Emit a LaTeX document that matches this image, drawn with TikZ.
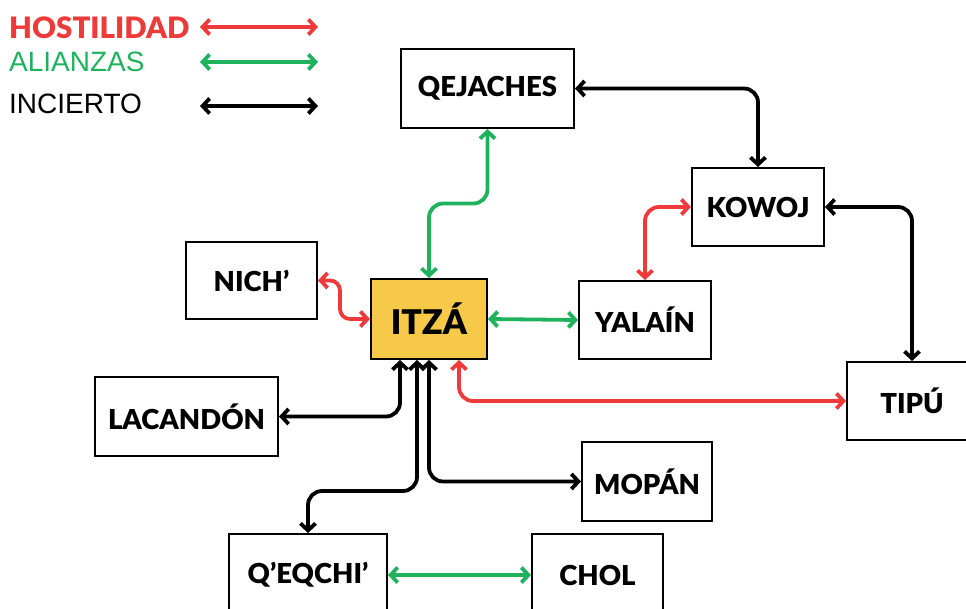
\documentclass[tikz,border=0pt]{standalone}
\usepackage{fontspec}
\setmainfont{Liberation Sans}
\newfontfamily\heavyfont{Lato Black}
\usepackage{tikz}
\usetikzlibrary{arrows.meta, calc}
\definecolor{hostil}{RGB}{238,58,58}
\definecolor{alianza}{RGB}{30,178,92}
\definecolor{itzagold}{RGB}{246,201,72}

\begin{document}
\begin{tikzpicture}[x=1pt, y=-1pt,
  >={Straight Barb[length=7pt,width=15pt]},
  tribe/.style={draw, line width=2pt, inner sep=0pt, minimum height=78pt,
    font=\heavyfont\fontsize{27.5}{31}\selectfont},
  rel/.style={<->, line width=3.8pt, rounded corners=14pt},
  legend/.style={anchor=west, inner sep=0pt, font=\fontsize{28}{32}\selectfont}]
  \useasboundingbox (0,0) rectangle (966,609);

  % Legend
  \node[legend, hostil, font=\heavyfont\fontsize{29.5}{33}\selectfont] (lhostil) at (9,28) {HOSTILIDAD};
  \node[legend, alianza] (lalianza) at (9,62) {ALIANZAS};
  \node[legend] (lincierto) at (9,104) {INCIERTO};
  \coordinate (h1) at (200,27);  \coordinate (h2) at (318,27);
  \coordinate (a1) at (200,62);  \coordinate (a2) at (318,62);
  \coordinate (i1) at (200,106); \coordinate (i2) at (318,106);
  \draw[rel, hostil] (h1) -- (h2);
  \draw[rel, alianza] (a1) -- (a2);
  \draw[rel] (i1) -- (i2);

  % Groups
  \node[tribe, fill=itzagold, minimum width=116pt, minimum height=80pt,
    font=\heavyfont\fontsize{34}{38}\selectfont] (itza) at (429,319) {ITZÁ};
  \node[tribe, minimum width=173pt, minimum height=79pt] (qejaches) at (487.5,88.5) {QEJACHES};
  \node[tribe, minimum width=132pt] (kowoj) at (758,207) {KOWOJ};
  \node[tribe, minimum width=132pt] (yalain) at (645,320) {YALAÍN};
  \node[tribe, minimum width=130pt] (tipu) at (912,401) {TIPÚ};
  \node[tribe, minimum width=131pt, minimum height=77pt] (nich) at (251.5,280.5) {NICH’};
  \node[tribe, minimum width=183pt, minimum height=79pt] (lacandon) at (186.5,416.5) {LACANDÓN};
  \node[tribe, minimum width=130pt, minimum height=79pt] (mopan) at (647,481.5) {MOPÁN};
  \node[tribe, minimum width=158pt, minimum height=82pt] (qeqchi) at (308,575) {Q’EQCHI’};
  \node[tribe, minimum width=131pt, minimum height=82pt] (chol) at (597.5,575) {CHOL};

  % Alliances
  \draw[rel, alianza] (itza.north) |- ($(itza.north)!0.5!(qejaches.south)$) -| (qejaches.south);
  \draw[rel, alianza] (itza.east) -- (yalain.west);
  \draw[rel, alianza] (qeqchi.east) -- (chol.west);

  % Hostility
  \draw[rel, hostil, rounded corners=10pt] (nich.east) -- ++(22,0) |- (itza.west);
  \draw[rel, hostil] (yalain.north) |- (kowoj.west);
  \draw[rel, hostil] ([xshift=30pt]itza.south) |- (tipu.west);

  % Uncertain
  \draw[rel] (qejaches.east) -| (kowoj.north);
  \draw[rel] (kowoj.east) -| (tipu.north);
  \draw[rel] ([xshift=-29pt]itza.south) |- (lacandon.east);
  \draw[rel] ([xshift=-12pt]itza.south) -- ++(0,131) -| (qeqchi.north);
  \draw[rel] (itza.south) |- (mopan.west);
\end{tikzpicture}
\end{document}
